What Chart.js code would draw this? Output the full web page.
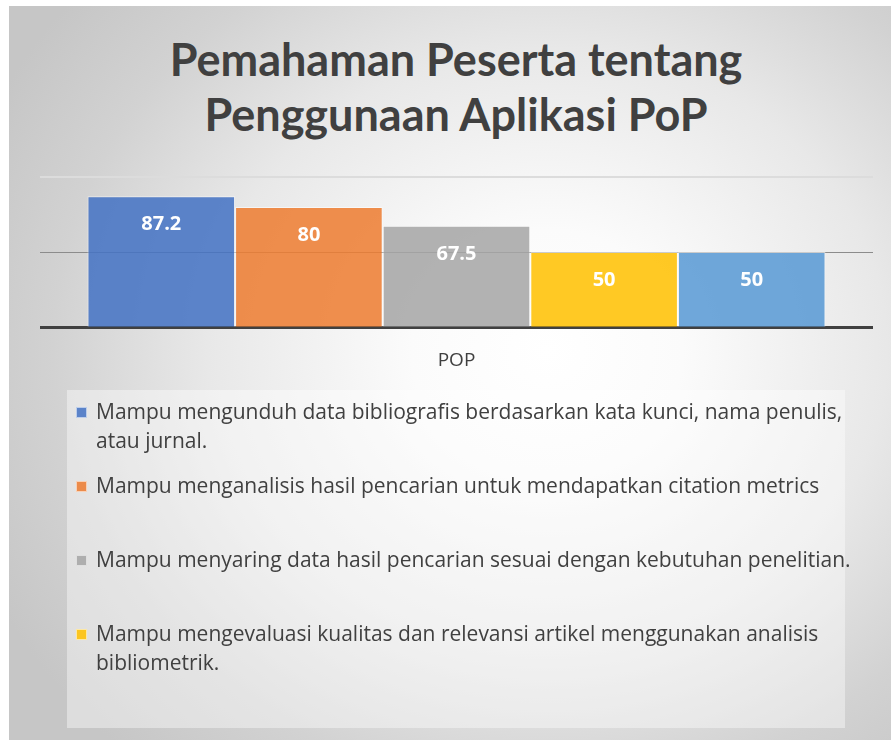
<!DOCTYPE html>
<html>
<head>
<meta charset="utf-8">
<script src="https://cdn.jsdelivr.net/npm/chart.js@4.4.1/dist/chart.umd.min.js"></script>
<style>
  html, body { margin:0; padding:0; width:891px; height:740px; overflow:hidden; background:#ffffff; }
  #frame { position:absolute; left:9px; top:6px; width:882px; height:734px;
    background: radial-gradient(ellipse 70% 75% at 61% 47%, #ffffff 0%, #fbfbfb 22%, #e8e8e8 55%, #d2d2d2 80%, #c6c6c6 100%); }
  #title { position:absolute; left:0; top:32px; width:912px; text-align:center;
    font: bold 45px Lato, "Liberation Sans", sans-serif; color:#404040; line-height:55px; }
  #chartBox { position:absolute; left:40px; top:170px; width:833px; height:224px; }
  #legend { position:absolute; left:67px; top:390px; width:778px; height:338px;
    background: rgba(255,255,255,0.4); padding-top:7px; box-sizing:border-box; }
  .item { position:relative; height:74px; }
  .mark { position:absolute; left:9px; top:10px; width:9px; height:9px; border:1px solid rgba(255,255,255,0.6); }
  .txt { position:absolute; left:29px; top:0; width:768px; font: 21px "Open Sans", sans-serif;
    color:#404040; line-height:29px; }
</style>
</head>
<body>
<div id="frame"></div>
<div id="title">Pemahaman Peserta tentang<br>Penggunaan Aplikasi PoP</div>
<div id="chartBox"><canvas id="c" width="833" height="224"></canvas></div>
<div id="legend"></div>
<script>
const categories = ["POP"];
const seriesLabels = [
  "Mampu mengunduh data bibliografis berdasarkan kata kunci, nama penulis, atau jurnal.",
  "Mampu menganalisis hasil pencarian untuk mendapatkan citation metrics",
  "Mampu menyaring data hasil pencarian sesuai dengan kebutuhan penelitian.",
  "Mampu mengevaluasi kualitas dan relevansi artikel menggunakan analisis bibliometrik.",
  "Series5"
];
const seriesValues = [[87.2], [80], [67.5], [50], [50]];
const seriesColors = ["rgba(68,114,196,0.86)", "rgba(237,125,49,0.86)", "rgba(165,165,165,0.86)", "rgba(255,192,0,0.86)", "rgba(91,155,213,0.88)"];
const legendCount = 4;
const yTicks = [0, 50, 100];

const valueLabels = {
  id: 'valueLabels',
  afterDatasetsDraw(chart) {
    const ctx = chart.ctx;
    ctx.save();
    ctx.font = 'bold 20px "Open Sans", sans-serif';
    ctx.fillStyle = '#ffffff';
    ctx.textAlign = 'center';
    ctx.textBaseline = 'middle';
    chart.data.datasets.forEach((ds, i) => {
      const meta = chart.getDatasetMeta(i);
      meta.data.forEach((bar, j) => {
        ctx.fillText(String(ds.data[j]), bar.x, bar.y + 28);
      });
    });
    ctx.restore();
  }
};

const chart = new Chart(document.getElementById('c'), {
  type: 'bar',
  data: {
    labels: categories,
    datasets: seriesLabels.map((lab, i) => ({
      label: lab,
      data: seriesValues[i],
      backgroundColor: seriesColors[i],
      borderColor: 'rgba(255,255,255,0.55)',
      borderWidth: 1,
      categoryPercentage: 0.886,
      barPercentage: 1.0
    }))
  },
  options: {
    responsive: false,
    animation: false,
    layout: { padding: { top: 7, bottom: 0, left: 0, right: 0 } },
    plugins: { legend: { display: false }, title: { display: false }, tooltip: { enabled: false } },
    scales: {
      x: {
        z: 1,
        grid: { display: false, drawTicks: false },
        border: { display: true, color: '#404040', width: 3 },
        ticks: { color: '#404040', font: { family: '"Open Sans", sans-serif', size: 19 }, padding: 22 }
      },
      y: {
        min: 0, max: 100,
        afterBuildTicks(scale) { scale.ticks = yTicks.map(v => ({ value: v })); },
        grid: {
          drawTicks: false,
          color: (c) => c.tick && c.tick.value === 50 ? '#8c8c8c' : (c.tick && c.tick.value === 100 ? '#dcdcdc' : 'rgba(0,0,0,0)'),
          lineWidth: (c) => c.tick && c.tick.value === 100 ? 2 : 1
        },
        border: { display: false },
        ticks: { display: false }
      }
    }
  },
  plugins: [valueLabels]
});

const legend = document.getElementById('legend');
for (let i = 0; i < legendCount; i++) {
  const item = document.createElement('div');
  item.className = 'item';
  const mark = document.createElement('div');
  mark.className = 'mark';
  mark.style.background = seriesColors[i];
  const txt = document.createElement('div');
  txt.className = 'txt';
  txt.textContent = seriesLabels[i];
  item.appendChild(mark);
  item.appendChild(txt);
  legend.appendChild(item);
}
</script>
</body>
</html>
